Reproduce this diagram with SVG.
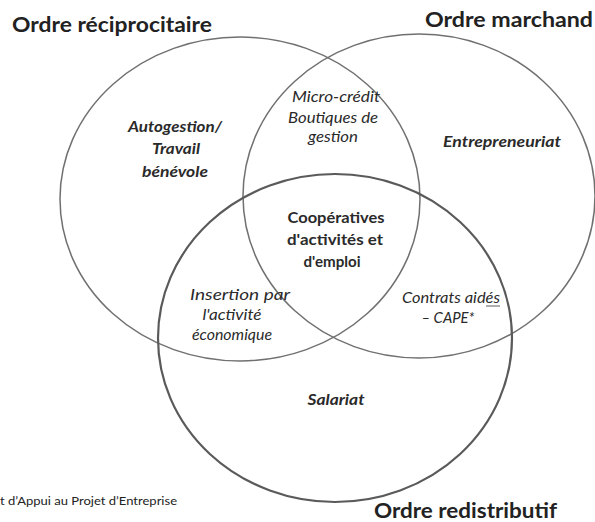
<svg xmlns="http://www.w3.org/2000/svg" width="595" height="522" viewBox="0 0 595 522">
<style>
.c{fill:none;stroke:#707070;stroke-width:1.5}
.cb{fill:none;stroke:#5a5a5a;stroke-width:2.2}
.t{font-family:Lato,"Liberation Sans",sans-serif;font-weight:700;font-size:21.5px;fill:#222}
.l{font-family:Lato,"Liberation Sans",sans-serif;font-size:16px;fill:#2a2a2a;text-anchor:middle}
.bi{font-weight:700;font-style:italic}
.i{font-style:italic}
.b{font-weight:700}
.f{font-family:Lato,"Liberation Sans",sans-serif;font-size:11px;fill:#222}
</style>
<rect width="595" height="522" fill="#fff"/>
<g id="ordre-reciprocitaire">
<ellipse class="c" cx="240" cy="199" rx="180" ry="162"/>
<text class="t" x="12" y="32" textLength="200" lengthAdjust="spacingAndGlyphs">Ordre réciprocitaire</text>
</g>
<g id="ordre-marchand">
<ellipse class="c" cx="419" cy="196" rx="176" ry="162"/>
<text class="t" x="425" y="27" textLength="168" lengthAdjust="spacingAndGlyphs">Ordre marchand</text>
</g>
<g id="ordre-redistributif">
<ellipse class="cb" cx="335" cy="338" rx="177" ry="164"/>
<text class="t" x="374" y="518" textLength="183" lengthAdjust="spacingAndGlyphs">Ordre redistributif</text>
</g>
<g id="autogestion">
<text class="l bi" x="175" y="132" textLength="94" lengthAdjust="spacingAndGlyphs">Autogestion/</text>
<text class="l bi" x="176" y="154" textLength="48" lengthAdjust="spacingAndGlyphs">Travail</text>
<text class="l bi" x="175" y="177" textLength="66" lengthAdjust="spacingAndGlyphs">bénévole</text>
</g>
<g id="micro-credit">
<text class="l i" x="336" y="102" textLength="88" lengthAdjust="spacingAndGlyphs">Micro-crédit</text>
<text class="l i" x="333" y="123" textLength="90" lengthAdjust="spacingAndGlyphs">Boutiques de</text>
<text class="l i" x="333" y="142" textLength="50" lengthAdjust="spacingAndGlyphs">gestion</text>
</g>
<g id="entrepreneuriat">
<text class="l bi" x="502" y="147" textLength="118" lengthAdjust="spacingAndGlyphs">Entrepreneuriat</text>
</g>
<g id="cooperatives">
<text class="l b" x="336" y="223" textLength="97" lengthAdjust="spacingAndGlyphs">Coopératives</text>
<text class="l b" x="335" y="245" textLength="96" lengthAdjust="spacingAndGlyphs">d'activités et</text>
<text class="l b" x="332" y="267" textLength="57" lengthAdjust="spacingAndGlyphs">d'emploi</text>
</g>
<g id="insertion">
<text class="l i" x="240" y="300" textLength="100" lengthAdjust="spacingAndGlyphs">Insertion par</text>
<text class="l i" x="232" y="320" textLength="59" lengthAdjust="spacingAndGlyphs">l'activité</text>
<text class="l i" x="232" y="340" textLength="80" lengthAdjust="spacingAndGlyphs">économique</text>
</g>
<g id="contrats-aides">
<text class="l i" x="451" y="303" textLength="98" lengthAdjust="spacingAndGlyphs">Contrats aidés</text>
<line x1="486" y1="306" x2="500" y2="306" stroke="#333" stroke-width="0.8"/>
<text class="l i" x="448" y="323" textLength="53" lengthAdjust="spacingAndGlyphs">– CAPE*</text>
</g>
<g id="salariat">
<text class="l bi" x="336" y="405" textLength="57" lengthAdjust="spacingAndGlyphs">Salariat</text>
</g>
<g id="connectors"></g>
<text class="f" x="0" y="505" textLength="177" lengthAdjust="spacingAndGlyphs">t d’Appui au Projet  d’Entreprise</text>
</svg>
